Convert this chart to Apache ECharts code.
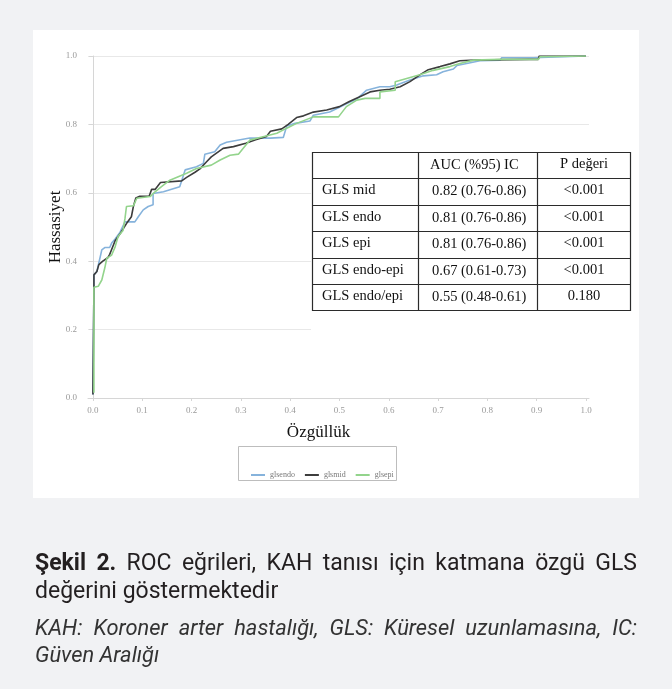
<!DOCTYPE html>
<html><head><meta charset="utf-8">
<script src="https://cdn.jsdelivr.net/npm/echarts@6/dist/echarts.min.js"></script>
<style>
html,body{margin:0;padding:0;background:#f1f2f4;width:672px;height:689px;overflow:hidden;}
#panel{position:absolute;left:33px;top:30px;width:606px;height:468px;background:#fff;}
#chart{position:absolute;left:0;top:0;width:672px;height:689px;}
</style></head><body>
<div id="panel"></div><div id="chart"></div>
<script>
// ---- data ----
const seriesNames = ['glsendo', 'glsmid', 'glsepi'];
const seriesColors = ['#86b3dc', '#3d3d3d', '#93d48c'];
const glsendo = [[0,0.01],[0.002,0.32],[0.002,0.36],[0.008,0.37],[0.011,0.389],[0.018,0.433],[0.024,0.44],[0.034,0.44],[0.038,0.453],[0.045,0.465],[0.055,0.485],[0.065,0.515],[0.085,0.515],[0.092,0.53],[0.102,0.55],[0.112,0.56],[0.122,0.565],[0.122,0.598],[0.143,0.603],[0.176,0.618],[0.187,0.667],[0.21,0.676],[0.224,0.686],[0.227,0.713],[0.247,0.72],[0.258,0.74],[0.271,0.748],[0.318,0.76],[0.36,0.76],[0.386,0.762],[0.393,0.795],[0.41,0.803],[0.44,0.81],[0.447,0.827],[0.48,0.836],[0.5,0.85],[0.514,0.86],[0.535,0.874],[0.555,0.9],[0.582,0.91],[0.602,0.91],[0.616,0.915],[0.643,0.93],[0.67,0.942],[0.697,0.945],[0.71,0.954],[0.731,0.962],[0.738,0.972],[0.758,0.978],[0.785,0.986],[0.826,0.988],[0.829,0.995],[0.893,0.995],[0.897,1.0],[1.0,1.0]];
const glsmid = [[0,0.01],[0.002,0.32],[0.002,0.36],[0.008,0.37],[0.012,0.39],[0.02,0.4],[0.03,0.41],[0.034,0.42],[0.045,0.46],[0.055,0.48],[0.068,0.51],[0.078,0.53],[0.082,0.56],[0.087,0.585],[0.095,0.59],[0.114,0.59],[0.119,0.61],[0.126,0.61],[0.137,0.63],[0.18,0.635],[0.19,0.645],[0.207,0.66],[0.217,0.67],[0.23,0.69],[0.24,0.705],[0.264,0.73],[0.285,0.735],[0.31,0.745],[0.33,0.755],[0.352,0.765],[0.36,0.78],[0.383,0.787],[0.396,0.8],[0.413,0.82],[0.427,0.825],[0.447,0.836],[0.474,0.842],[0.5,0.852],[0.52,0.867],[0.54,0.88],[0.562,0.895],[0.582,0.9],[0.602,0.903],[0.623,0.91],[0.643,0.925],[0.663,0.945],[0.68,0.96],[0.704,0.969],[0.724,0.977],[0.744,0.986],[0.775,0.988],[0.886,0.99],[0.903,0.99],[0.905,1.0],[1.0,1.0]];
const glsepi = [[0.002,0.015],[0.002,0.324],[0.011,0.327],[0.018,0.345],[0.024,0.38],[0.028,0.408],[0.038,0.418],[0.045,0.442],[0.051,0.472],[0.061,0.49],[0.065,0.525],[0.068,0.56],[0.082,0.562],[0.089,0.584],[0.116,0.589],[0.126,0.603],[0.139,0.618],[0.156,0.637],[0.173,0.647],[0.19,0.657],[0.21,0.671],[0.24,0.681],[0.258,0.696],[0.278,0.71],[0.295,0.713],[0.318,0.754],[0.345,0.764],[0.373,0.774],[0.393,0.789],[0.413,0.803],[0.447,0.822],[0.467,0.822],[0.498,0.822],[0.514,0.852],[0.535,0.871],[0.552,0.876],[0.582,0.876],[0.582,0.895],[0.613,0.9],[0.613,0.925],[0.663,0.945],[0.69,0.958],[0.724,0.969],[0.744,0.978],[0.772,0.988],[0.826,0.99],[0.903,0.99],[0.907,0.998],[1.0,1.0]];
const xTicks = [0, 0.1, 0.2, 0.3, 0.4, 0.5, 0.6, 0.7, 0.8, 0.9, 1.0];
const yTicks = [0, 0.2, 0.4, 0.6, 0.8, 1.0];
const xTitle = 'Özgüllük';
const yTitle = 'Hassasiyet';
const tableHeader = ['', 'AUC (%95) IC', 'P değeri'];
const tableLabels = ['GLS mid', 'GLS endo', 'GLS epi', 'GLS endo-epi', 'GLS endo/epi'];
const tableAUC = ['0.82 (0.76-0.86)', '0.81 (0.76-0.86)', '0.81 (0.76-0.86)', '0.67 (0.61-0.73)', '0.55 (0.48-0.61)'];
const tableP = ['<0.001', '<0.001', '<0.001', '<0.001', '0.180'];
const captionBold = 'Şekil 2.';
const captionLine1 = 'ROC eğrileri, KAH tanısı için katmana özgü GLS';
const captionLine2 = 'değerini göstermektedir';
const noteLine1 = 'KAH: Koroner arter hastalığı, GLS: Küresel uzunlamasına, IC:';
const noteLine2 = 'Güven Aralığı';

// ---- layout helpers ----
const serif = '"Liberation Serif", "DejaVu Serif", serif';
const capFamily = 'Roboto, "Liberation Sans", sans-serif';
const cv = document.createElement('canvas').getContext('2d');
function tw(text, font) { cv.font = font; return cv.measureText(text).width; }
let capSize = 20 * 245 / tw(captionLine2, '20px ' + capFamily);
capSize = Math.max(17, Math.min(23, capSize));
const X0 = 35, X1 = 637;
const graphics = [];
function textEl(x, y, text, font, fill, align) {
  graphics.push({ type: 'text', x: x, y: y, z: 20,
    style: { text: text, font: font, fill: fill, align: align || 'left', verticalAlign: 'middle',
             textAlign: align || 'left', textVerticalAlign: 'middle' } });
}
function justify(words, y, color) {
  const widths = words.map(w => tw(w.t, w.font));
  const sum = widths.reduce((a, b) => a + b, 0);
  const gap = (X1 - X0 - sum) / (words.length - 1);
  let x = X0;
  words.forEach((w, i) => { textEl(x, y, w.t, w.font, color); x += widths[i] + gap; });
}
const fBold = 'bold ' + capSize.toFixed(2) + 'px ' + capFamily;
const fReg = capSize.toFixed(2) + 'px ' + capFamily;
const fIt = 'italic ' + (capSize * 0.95).toFixed(2) + 'px ' + capFamily;
const line1Words = captionBold.split(' ').map(t => ({ t, font: fBold }))
  .concat(captionLine1.split(' ').map(t => ({ t, font: fReg })));
justify(line1Words, 564, '#231f20');
textEl(X0, 592, captionLine2, fReg, '#231f20');
justify(noteLine1.split(' ').map(t => ({ t, font: fIt })), 630, '#333');
textEl(X0, 657, noteLine2, fIt, '#333');

// table (white backing covers grid lines behind it)
graphics.push({ type: 'rect', z: 5, shape: { x: 311, y: 138, width: 290, height: 202 }, style: { fill: '#fff' } });
const tL = 312, tR = 630, tT = 152, rowH = 26.4;
const colX = [312, 418, 537, 630];
const nRows = tableLabels.length + 1;
const lineStyle = { stroke: '#2b2b2b', lineWidth: 1.2 };
for (let r = 0; r <= nRows; r++) {
  const y = Math.round(tT + r * rowH) + 0.5;
  graphics.push({ type: 'line', z: 10, shape: { x1: tL, y1: y, x2: tR, y2: y }, style: lineStyle });
}
colX.forEach(x => graphics.push({ type: 'line', z: 10, shape: { x1: x + 0.5, y1: tT, x2: x + 0.5, y2: Math.round(tT + nRows * rowH) + 1 }, style: lineStyle }));
const tFont = '14.5px ' + serif;
const rowsAll = [tableHeader].concat(tableLabels.map((l, i) => [l, tableAUC[i], tableP[i]]));
rowsAll.forEach((row, r) => {
  const yc = tT + r * rowH + rowH / 2;
  if (row[0]) textEl(322, yc - 1, row[0], tFont, '#111');
  textEl(r === 0 ? 430 : 432, yc, row[1], tFont, '#111');
  textEl(584, yc - 1, row[2], tFont, '#111', 'center');
});
// legend frame
graphics.push({ type: 'rect', z: 5, shape: { x: 238.5, y: 446.5, width: 158, height: 34 }, style: { fill: '#fff', stroke: '#bdbdbd', lineWidth: 1 } });

const chart = echarts.init(document.getElementById('chart'), null, { renderer: 'canvas' });
chart.setOption({
  backgroundColor: 'transparent',
  animation: false,
  grid: { left: 88, right: 83, top: 56, bottom: 291, containLabel: false },
  xAxis: {
    type: 'value', min: -0.01, max: 1.006,
    name: xTitle, nameLocation: 'middle', nameGap: 26, nameMoveOverlap: false,
    nameTextStyle: { fontFamily: serif, fontSize: 17, color: '#111', padding: [0, 40, 0, 0] },
    axisLine: { show: true, lineStyle: { color: '#d6d6d6', width: 1 } },
    axisTick: { show: true, length: 3, customValues: xTicks, lineStyle: { color: '#d6d6d6' } },
    axisLabel: { customValues: xTicks, formatter: v => v.toFixed(1), fontFamily: serif, fontSize: 9, color: '#9a9a9a', margin: 8 },
    splitLine: { show: false }
  },
  yAxis: {
    type: 'value', min: 0, max: 1, interval: 0.2,
    name: yTitle, nameLocation: 'middle', nameGap: 24, nameRotate: 90, nameMoveOverlap: false,
    nameTextStyle: { fontFamily: serif, fontSize: 17, color: '#111' },
    axisLine: { show: true, lineStyle: { color: '#d6d6d6', width: 1 } },
    axisTick: { show: true, length: 4, lineStyle: { color: '#d6d6d6' } },
    axisLabel: { formatter: v => v.toFixed(1), fontFamily: serif, fontSize: 9, color: '#9a9a9a', margin: 11 },
    splitLine: { show: true, lineStyle: { color: '#e8e8e8', width: 1 } }
  },
  legend: {
    left: 246, top: 466, icon: 'rect', itemWidth: 14, itemHeight: 2, itemGap: 10, itemStyle: { borderWidth: 0 }, z: 10,
    data: seriesNames,
    textStyle: { fontFamily: serif, fontSize: 8, color: '#777' }
  },
  series: [glsendo, glsmid, glsepi].map((d, i) => ({
    name: seriesNames[i], type: 'line', data: d, symbol: 'none', z: 2 + i,
    lineStyle: { color: seriesColors[i], width: 1.6 }, itemStyle: { color: seriesColors[i] }
  })),
  graphic: { elements: graphics }
});
</script>
</body></html>
